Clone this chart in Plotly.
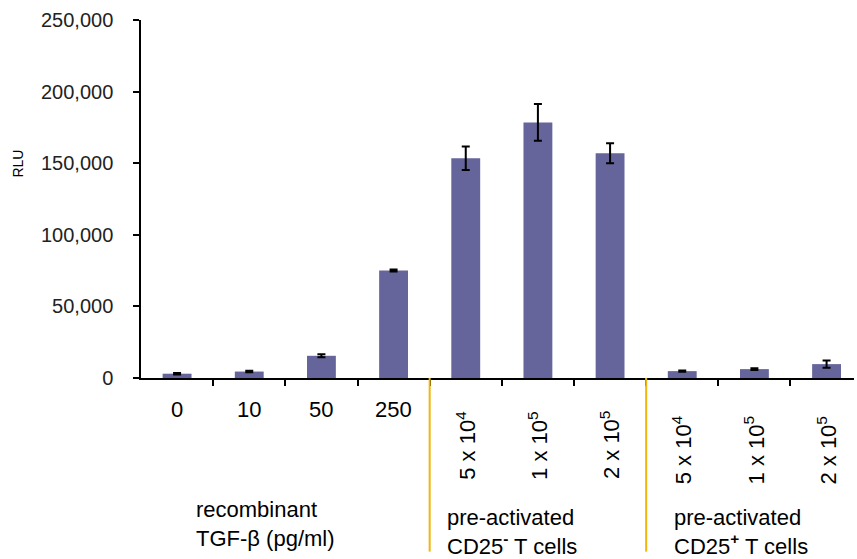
import plotly.graph_objects as go

categories = ["0", "10", "50", "250", "5 x 10<sup>4</sup>", "1 x 10<sup>5</sup>", "2 x 10<sup>5</sup>",
              "5 x 10<sup>4</sup>", "1 x 10<sup>5</sup>", "2 x 10<sup>5</sup>"]
values = [3000, 4500, 15500, 75000, 153500, 178500, 157000, 4800, 6200, 9700]
errors = [500, 500, 1000, 700, 8200, 12800, 7000, 500, 600, 2600]
rotated = [False, False, False, False, True, True, True, True, True, True]
group_labels = ["recombinant<br>TGF-β (pg/ml)",
                "pre-activated<br>CD25<sup><b>-</b></sup> T cells",
                "pre-activated<br>CD25<sup><b>+</b></sup> T cells"]
y_ticks = [0, 50000, 100000, 150000, 200000, 250000]

FONT = "Liberation Sans, Arial, sans-serif"
xs = list(range(len(categories)))

fig = go.Figure()
fig.add_trace(go.Bar(
    x=xs, y=values, width=0.4,
    marker=dict(color="#65659b", line=dict(width=0)),
    error_y=dict(type="data", array=errors, visible=True, color="black", thickness=2, width=4),
))

annotations = []
for i, (lab, rot) in enumerate(zip(categories, rotated)):
    if not rot:
        annotations.append(dict(x=i, y=0, xref="x", yref="paper", text=lab, showarrow=False,
                                yshift=-31, yanchor="middle", xanchor="center",
                                font=dict(size=22, color="black", family=FONT)))
    else:
        shift = -67 if i < 7 else -72
        annotations.append(dict(x=i, y=0, xref="x", yref="paper", text=lab, showarrow=False,
                                textangle=-90, yshift=shift, yanchor="middle", xanchor="center",
                                font=dict(size=22, color="black", family=FONT)))

group_x = [0.075, 0.426, 0.745]
group_shift = [-146, -154, -154]
for gx, gs, gl in zip(group_x, group_shift, group_labels):
    annotations.append(dict(x=gx, y=0, xref="paper", yref="paper", text=gl, showarrow=False,
                            xanchor="left", yanchor="middle", align="left", yshift=gs,
                            font=dict(size=22, color="black", family=FONT)))

annotations.append(dict(x=-0.172, y=0.6, xref="paper", yref="paper", text="RLU", showarrow=False,
                        textangle=-90, xanchor="center", yanchor="middle",
                        font=dict(size=14, color="black", family=FONT)))

shapes = []
for bx in [3.5, 6.5]:
    shapes.append(dict(type="line", xref="x", yref="paper", x0=bx, x1=bx, y0=0, y1=-0.485,
                       line=dict(color="#f2b50c", width=2)))

fig.update_layout(
    width=857, height=559,
    margin=dict(l=141, r=3, t=20, b=181),
    paper_bgcolor="white", plot_bgcolor="white",
    showlegend=False,
    annotations=annotations, shapes=shapes,
    xaxis=dict(range=[-0.5, 9.38], showgrid=False, zeroline=False,
               showline=True, linecolor="black", linewidth=1.5,
               tickvals=[0.5, 1.5, 2.5, 3.5, 4.5, 5.5, 6.5, 7.5, 8.5],
               showticklabels=False, ticks="outside", ticklen=6, tickwidth=1.5, tickcolor="black"),
    yaxis=dict(range=[0, 250000], showgrid=False, zeroline=False,
               showline=True, linecolor="black", linewidth=1.5,
               tickvals=y_ticks, ticktext=[f"{v:,}" for v in y_ticks],
               ticks="outside", ticklen=6, tickwidth=1.5, tickcolor="black",
               ticklabelstandoff=16,
               tickfont=dict(size=20, color="#222222", family=FONT)),
)

fig.write_html("out.html", config={"displayModeBar": False},
               post_script="document.body.style.margin='0';")
